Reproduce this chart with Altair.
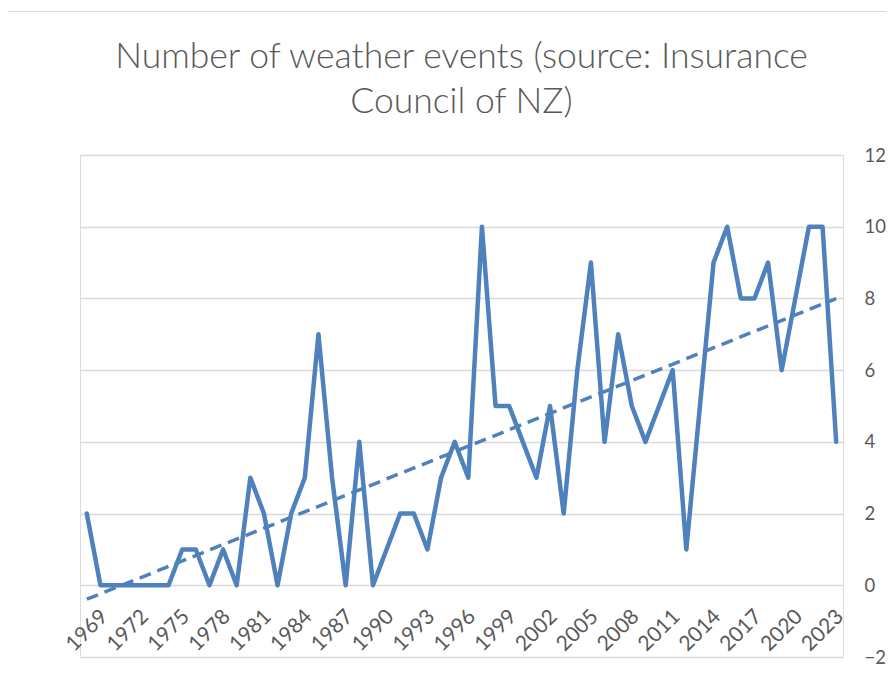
import altair as alt
import pandas as pd

years = [1969, 1970, 1971, 1972, 1973, 1974, 1975, 1976, 1977, 1978,
         1979, 1980, 1981, 1982, 1983, 1984, 1985, 1986, 1987, 1988,
         1989, 1990, 1991, 1992, 1993, 1994, 1995, 1996, 1997, 1998,
         1999, 2000, 2001, 2002, 2003, 2004, 2005, 2006, 2007, 2008,
         2009, 2010, 2011, 2012, 2013, 2014, 2015, 2016, 2017, 2018,
         2019, 2020, 2021, 2022, 2023, 2024]
events = [2, 0, 0, 0, 0, 0, 0, 1, 1, 0,
          1, 0, 3, 2, 0, 2, 3, 7, 3, 0,
          4, 0, 1, 2, 2, 1, 3, 4, 3, 10,
          5, 5, 4, 3, 5, 2, 6, 9, 4, 7,
          5, 4, 5, 6, 1, 5, 9, 10, 8, 8,
          9, 6, 8, 10, 10, 4]
x_tick_labels = [1969, 1972, 1975, 1978, 1981, 1984, 1987, 1990, 1993, 1996,
                 1999, 2002, 2005, 2008, 2011, 2014, 2017, 2020, 2023]
y_ticks = [-2, 0, 2, 4, 6, 8, 10, 12]
title_lines = ["Number of weather events (source: Insurance", "Council of NZ)"]

df = pd.DataFrame({"Year": years, "Events": events})

BLUE = "#4F81BD"
GREY = "#595959"
W, H = 763, 502

x_scale = alt.Scale(domain=[years[0] - 0.5, years[-1] + 0.5], nice=False, zero=False)
y_scale = alt.Scale(domain=[y_ticks[0], y_ticks[-1]], nice=False, zero=False)

x_axis = alt.Axis(
    values=x_tick_labels, labelAngle=-45, labelAlign="center", labelBaseline="middle",
    labelPadding=45, labelFontSize=21, labelFont="Lato", labelColor=GREY,
    domain=False, ticks=False, grid=False, title=None, offset=-(2 * H / 14),
    labelOverlap=False, labelFlush=False, format="d",
)
y_axis = alt.Axis(
    values=y_ticks, orient="right", labelAlign="left", labelBaseline="middle",
    labelPadding=21, labelFontSize=18.5, labelFont="Lato", labelColor=GREY,
    domain=False, ticks=False, grid=True, gridColor="#D9D9D9", gridWidth=1.5,
    title=None,
)

base = alt.Chart(df)

line = base.mark_line(color=BLUE, strokeWidth=4.5, strokeJoin="round", strokeCap="round").encode(
    x=alt.X("Year:Q", scale=x_scale, axis=x_axis),
    y=alt.Y("Events:Q", scale=y_scale, axis=y_axis),
)

trend = base.transform_regression(
    "Year", "Events", method="linear", extent=[years[0], years[-1]]
).mark_line(color=BLUE, strokeWidth=3.5, strokeDash=[12, 7]).encode(
    x=alt.X("Year:Q", scale=x_scale),
    y=alt.Y("Events:Q", scale=y_scale),
)

frame = alt.Chart(alt.Data(values=[{}])).mark_rect(
    filled=False, stroke="#D9D9D9", strokeWidth=1.2, clip=False
).encode(
    x=alt.value(-72.5), x2=alt.value(W + 80),
    y=alt.value(-143.5), y2=alt.value(H + 60),
)

chart = alt.layer(frame, line, trend).properties(
    width=W, height=H,
    autosize=alt.AutoSizeParams(type="none"),
    padding={"left": 72, "top": 147, "right": 43, "bottom": 10},
    title=alt.TitleParams(
        text=title_lines, anchor="middle", frame="group", font="Lato",
        fontWeight=300, fontSize=35.5, color=GREY, lineHeight=45, offset=-110,
    ),
).configure_view(stroke="transparent").configure(background="white")

chart.save("out.html", embed_options={"renderer": "svg", "actions": False})
